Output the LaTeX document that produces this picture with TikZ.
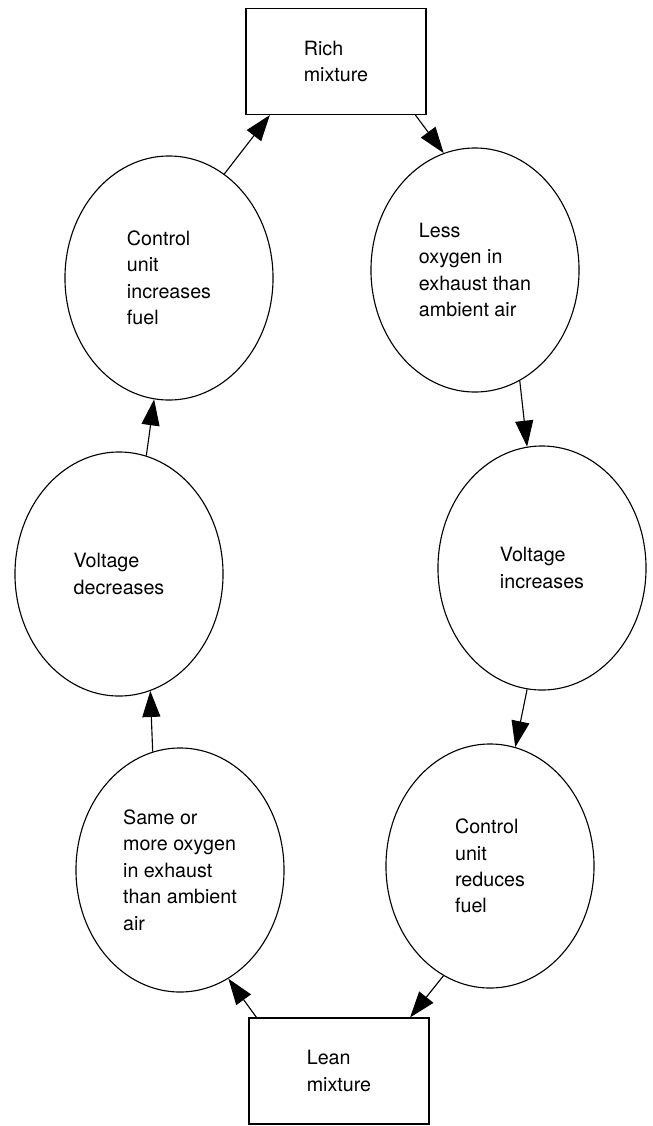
\documentclass[tikz,border=0pt]{standalone}
\usepackage{fontspec}
\setmainfont{TeX Gyre Heros}
\usetikzlibrary{arrows.meta, shapes.geometric}

\begin{document}
\begin{tikzpicture}[x=0.025cm, y=-0.025cm, >={Triangle[length=0.65cm, width=0.45cm]},
    stage/.style={draw, ellipse, line width=0.8pt, minimum width=5.2cm, minimum height=6.1cm,
        inner sep=0pt, align=left, font=\fontsize{14}{18.8}\selectfont},
    mixbox/.style={draw, rectangle, line width=0.8pt, minimum width=4.5cm, minimum height=2.65cm,
        align=left, font=\fontsize{14}{18.8}\selectfont},
    link/.style={->, line width=0.8pt}]
    \useasboundingbox (0,0) rectangle (652,1126);

    \node[mixbox] (rich) at (336,61.5) {Rich\\mixture};
    \node[mixbox] (lean) at (339,1071) {Lean\\mixture};

    \node[stage] (incfuel) at (169,278) {Control\\unit\\increases\\fuel};
    \node[stage] (lessox) at (475,270) {Less\\oxygen in\\exhaust than\\ambient air};
    \node[stage] (vdec) at (119,574) {Voltage\\decreases};
    \node[stage] (vinc) at (542,568) {Voltage\\increases};
    \node[stage] (moreox) at (180,870) {Same or\\more oxygen\\in exhaust\\than ambient\\air};
    \node[stage] (redfuel) at (490,866) {Control\\unit\\reduces\\fuel};

    \draw[link] (incfuel.62.6) -- (rich.-141.8);
    \draw[link] (rich.-34.8) -- (lessox.105.9);
    \draw[link] (lessox.-68.9) -- (vinc.97.8);
    \draw[link] (vinc.-97.9) -- (redfuel.78.3);
    \draw[link] (redfuel.-113.7) -- (lean.37.5);
    \draw[link] (lean.147.8) -- (moreox.-66);
    \draw[link] (moreox.103.1) -- (vdec.-75.9);
    \draw[link] (vdec.77.4) -- (incfuel.-97.8);
\end{tikzpicture}
\end{document}
